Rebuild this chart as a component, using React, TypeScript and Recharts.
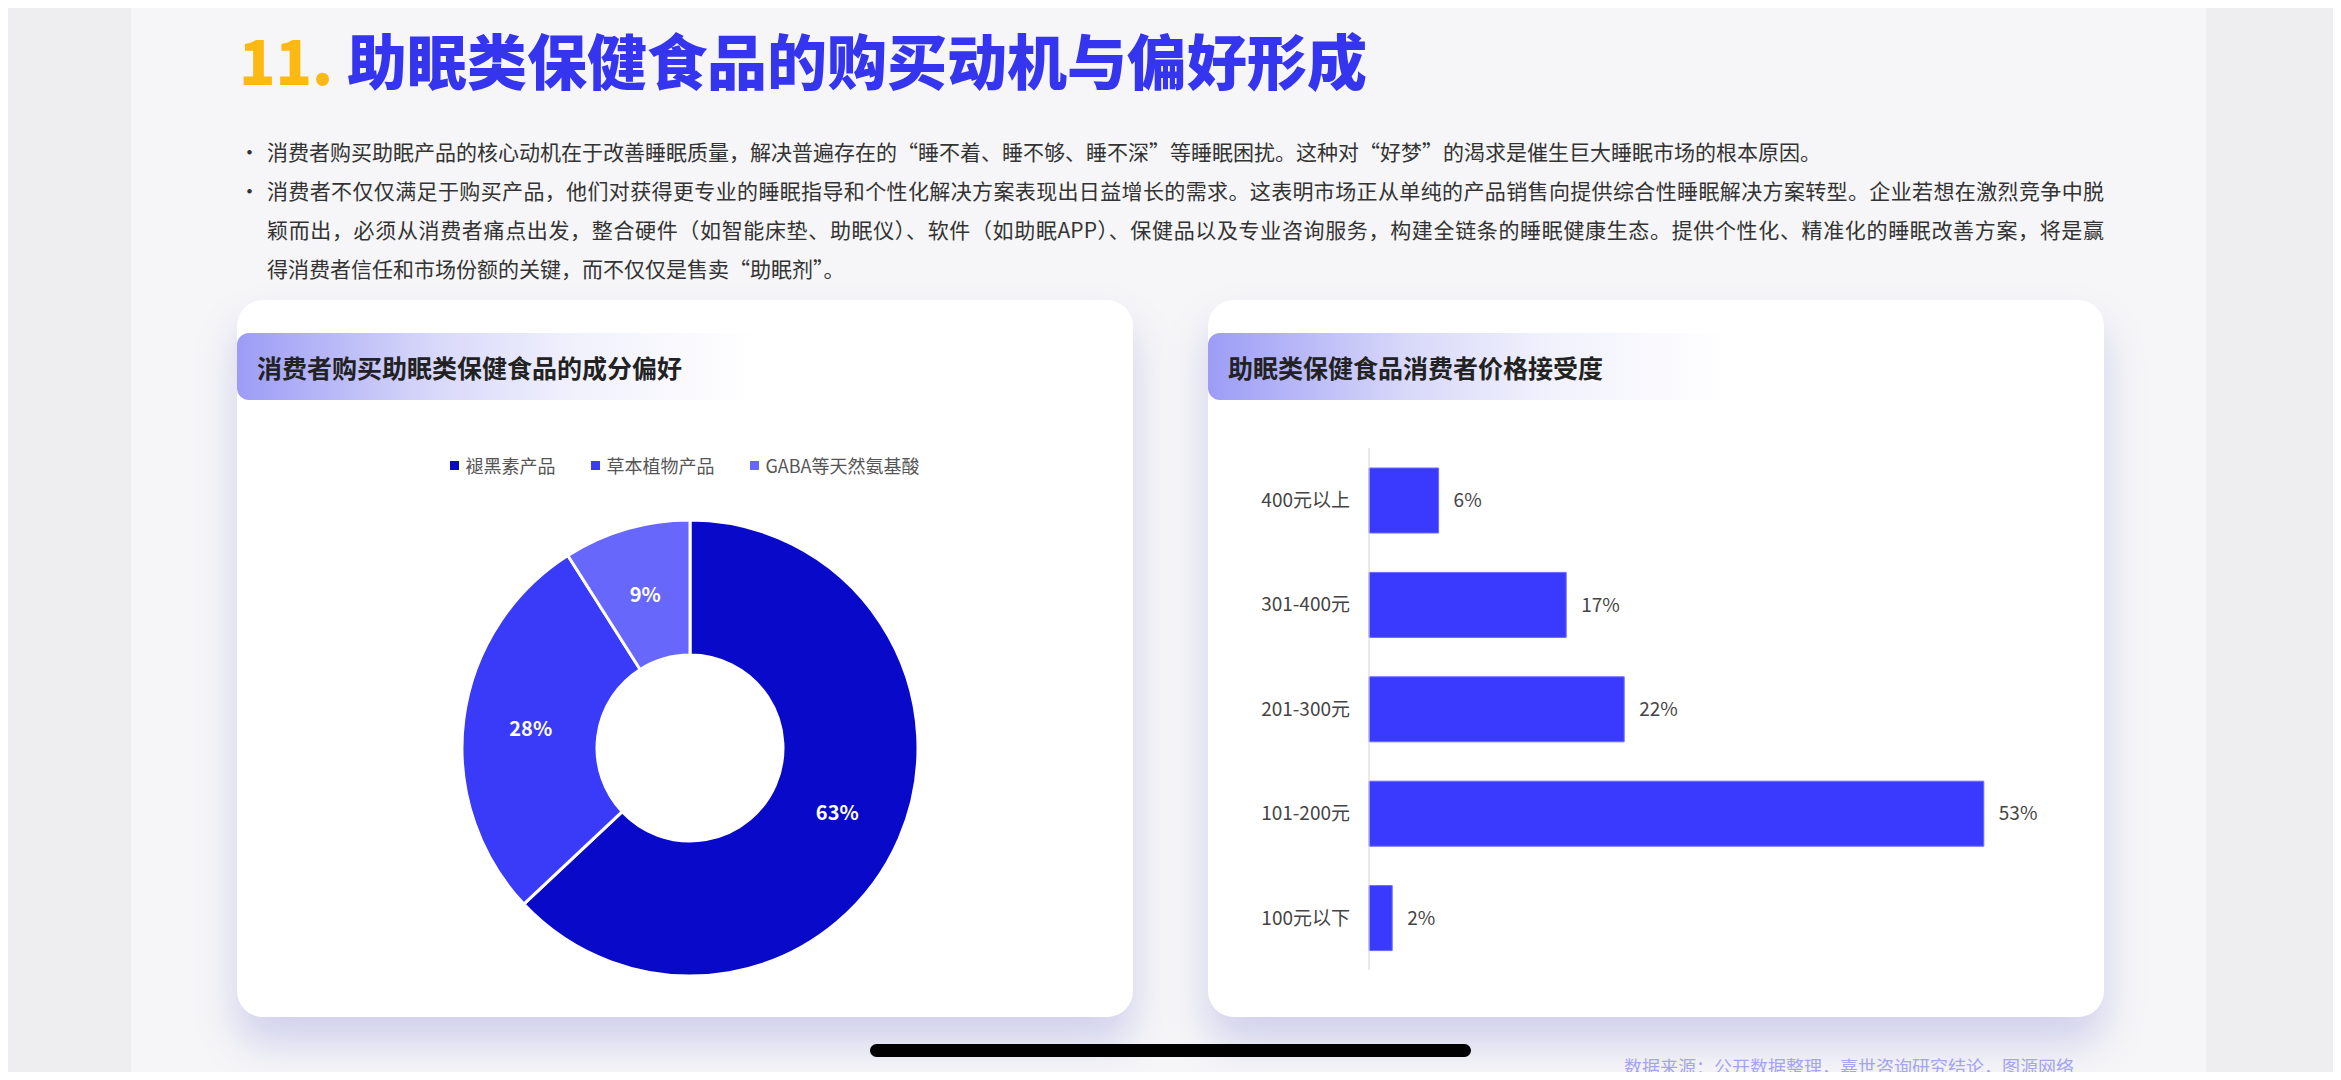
import React from 'react';
import { PieChart, Pie, Cell, BarChart, Bar, XAxis, YAxis, LabelList } from 'recharts';

const ingredientNames = ['褪黑素产品', '草本植物产品', 'GABA等天然氨基酸'];
const ingredientShares = [63, 28, 9];
const ingredientColors = ['#0909C9', '#3A3AF9', '#6767FB'];

const priceCategories = ['400元以上', '301-400元', '201-300元', '101-200元', '100元以下'];
const priceShares = [6, 17, 22, 53, 2];

const FONT = '"Noto Sans CJK SC", "Noto Sans", sans-serif';

const pieData = ingredientNames.map((name, i) => ({ name, value: ingredientShares[i] }));
const barData = priceCategories.map((name, i) => ({ name, value: priceShares[i] }));

const RADIAN = Math.PI / 180;
const renderPieLabel = ({ cx, cy, midAngle, innerRadius, outerRadius, value }: any) => {
  const r = (innerRadius + outerRadius) / 2;
  const x = cx + r * Math.cos(-midAngle * RADIAN);
  const y = cy + r * Math.sin(-midAngle * RADIAN);
  return (
    <text x={x} y={y} fill="#fff" textAnchor="middle" dominantBaseline="central"
      fontSize={20} fontWeight={700} fontFamily={FONT}>
      {`${value}%`}
    </text>
  );
};

const PieLegend = () => (
  <div style={{ display: 'flex', justifyContent: 'center', gap: 36, fontFamily: FONT, fontSize: 18, color: '#555' }}>
    {ingredientNames.map((n, i) => (
      <div key={n} style={{ display: 'flex', alignItems: 'center' }}>
        <span style={{ width: 9, height: 9, background: ingredientColors[i], marginRight: 6, display: 'inline-block' }} />
        {n}
      </div>
    ))}
  </div>
);

const cardStyle: React.CSSProperties = {
  position: 'absolute',
  top: 300,
  width: 896,
  height: 717,
  background: '#fff',
  borderRadius: 26,
  boxShadow: '0 26px 40px rgba(110,110,210,0.28)',
  overflow: 'hidden',
};

const CardHeader = ({ title }: { title: string }) => (
  <div style={{
    position: 'absolute', left: 0, top: 33, width: 520, height: 67,
    borderRadius: '12px 0 0 12px',
    background: 'linear-gradient(90deg, #9c9cf6 0%, #d8d8fa 38%, #f1f1fd 65%, rgba(255,255,255,0) 100%)',
    display: 'flex', alignItems: 'center', paddingLeft: 20, boxSizing: 'border-box',
    fontFamily: FONT, fontSize: 25, fontWeight: 700, color: '#222',
  }}>
    {title}
  </div>
);

const para2Lines = [
  '消费者不仅仅满足于购买产品，他们对获得更专业的睡眠指导和个性化解决方案表现出日益增长的需求。这表明市场正从单纯的产品销售向提供综合性睡眠解决方案转型。企业若想在激烈竞争中脱',
  '颖而出，必须从消费者痛点出发，整合硬件（如智能床垫、助眠仪）、软件（如助眠APP）、保健品以及专业咨询服务，构建全链条的睡眠健康生态。提供个性化、精准化的睡眠改善方案，将是赢',
  '得消费者信任和市场份额的关键，而不仅仅是售卖“助眠剂”。',
];

export default function App() {
  return (
    <div style={{ position: 'relative', margin: -8, width: 2341, height: 1080, overflow: 'hidden', background: '#eeeef1', fontFamily: FONT }}>
      <div style={{ position: 'absolute', left: 131, top: 0, width: 2075, height: 1080, background: '#f6f6f8' }} />

      <div style={{ position: 'absolute', left: 239, top: 26, fontSize: 60, fontWeight: 900, lineHeight: '66px', whiteSpace: 'nowrap', color: '#3535F0' }}>
        <span style={{ color: '#FDB913' }}>11.</span> 助眠类保健食品的购买动机与偏好形成
      </div>

      <div style={{ position: 'absolute', left: 239, top: 132, width: 1865, fontSize: 21, lineHeight: '39px', color: '#333' }}>
        <div style={{ display: 'flex' }}>
          <span style={{ width: 28, flexShrink: 0 }}>•</span>
          <span style={{ whiteSpace: 'nowrap' }}>消费者购买助眠产品的核心动机在于改善睡眠质量，解决普遍存在的“睡不着、睡不够、睡不深”等睡眠困扰。这种对“好梦”的渴求是催生巨大睡眠市场的根本原因。</span>
        </div>
        <div style={{ display: 'flex' }}>
          <span style={{ width: 28, flexShrink: 0 }}>•</span>
          <div style={{ flex: 1 }}>
            {para2Lines.map((l, i) => (
              <div key={i} style={{ whiteSpace: 'nowrap', textAlign: 'justify', textAlignLast: i < 2 ? 'justify' : 'left' }}>{l}</div>
            ))}
          </div>
        </div>
      </div>

      <div style={{ ...cardStyle, left: 237 }}>
        <CardHeader title="消费者购买助眠类保健食品的成分偏好" />
        <div style={{ position: 'absolute', left: 0, top: 152, width: 896 }}>
          <PieLegend />
        </div>
        <div style={{ position: 'absolute', left: 0, top: 0 }}>
          <PieChart width={896} height={717}>
            <Pie data={pieData} dataKey="value" nameKey="name" cx={448} cy={443}
              innerRadius={93} outerRadius={228} startAngle={90} endAngle={-270}
              stroke="#fff" strokeWidth={3} label={renderPieLabel} labelLine={false}
              isAnimationActive={false}>
              {pieData.map((d, i) => <Cell key={d.name} fill={ingredientColors[i]} />)}
            </Pie>
          </PieChart>
        </div>
      </div>

      <div style={{ ...cardStyle, left: 1208 }}>
        <CardHeader title="助眠类保健食品消费者价格接受度" />
        <div style={{ position: 'absolute', left: 0, top: 0 }}>
          <BarChart width={896} height={717} data={barData} layout="vertical"
            margin={{ top: 148, right: 39, bottom: 47, left: 0 }}>
            <XAxis type="number" domain={[0, 60]} hide />
            <YAxis type="category" dataKey="name" width={161} tickLine={false} tickSize={0} tickMargin={19}
              axisLine={{ stroke: '#d4d4d4' }} tick={{ fill: '#444', fontSize: 19, fontFamily: FONT }} />
            <Bar dataKey="value" fill="#3A3AFF" stroke="#6a6aff" strokeWidth={1} barSize={65} isAnimationActive={false}>
              <LabelList dataKey="value" position="right" offset={15} formatter={(v: any) => `${v}%`}
                style={{ fill: '#444', fontSize: 19, fontFamily: FONT }} />
            </Bar>
          </BarChart>
        </div>
      </div>

      <div style={{ position: 'absolute', left: 870, top: 1044, width: 601, height: 13, borderRadius: 7, background: '#000' }} />
      <div style={{ position: 'absolute', left: 1624, top: 1055, fontSize: 18, lineHeight: '22px', color: '#a4a4f0', whiteSpace: 'nowrap' }}>
        数据来源：公开数据整理，嘉世咨询研究结论，图源网络
      </div>
    </div>
  );
}
